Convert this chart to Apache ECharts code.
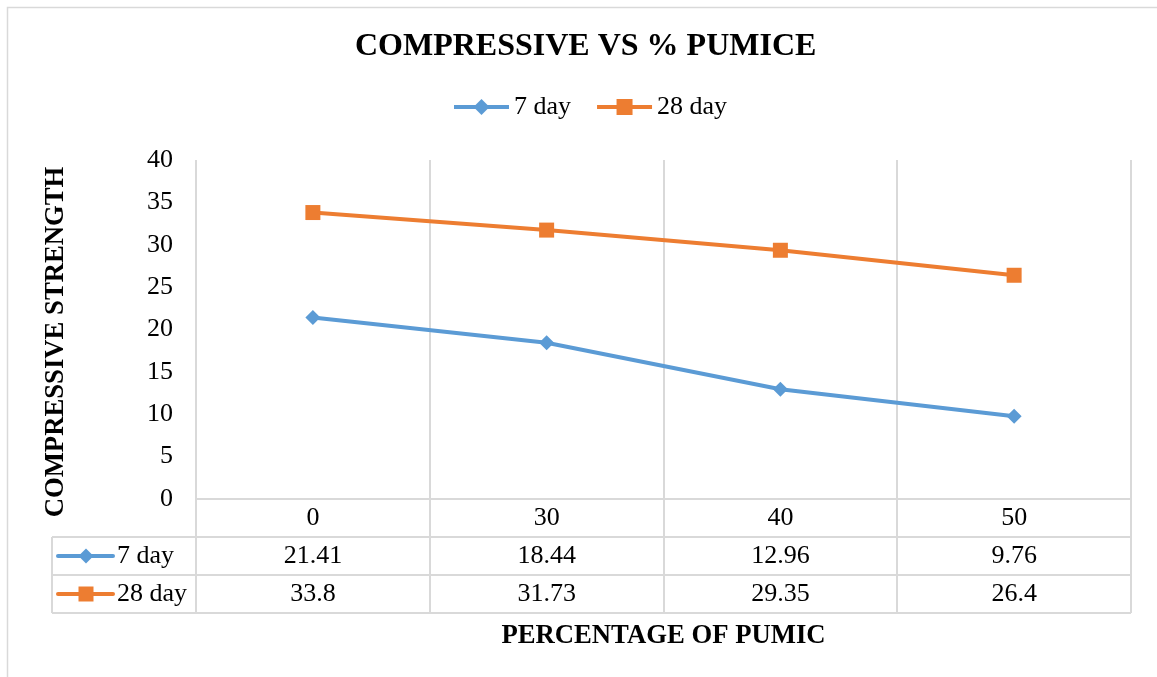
<!DOCTYPE html>
<html>
<head>
<meta charset="utf-8">
<script src="https://cdn.jsdelivr.net/npm/echarts@6/dist/echarts.min.js"></script>
<style>
html, body { margin: 0; padding: 0; background: #fff; }
#chart { width: 1157px; height: 677px; }
</style>
</head>
<body>
<div id="chart"></div>
<script>
// Percentage of pumice (categories) and compressive strength per curing age
const categories = ['0', '30', '40', '50'];
const seriesNames = ['7 day', '28 day'];
const day7 = [21.41, 18.44, 12.96, 9.76];
const day28 = [33.8, 31.73, 29.35, 26.4];
const yMin = 0, yMax = 40, yStep = 5;

const FONT = '"Liberation Serif", "Times New Roman", serif';
const LINE_GRAY = '#d9d9d9';
const COLORS = ['#5B9BD5', '#ED7D31'];
const SYMBOLS = ['diamond', 'rect'];
const seriesData = [day7, day28];

const chart = echarts.init(document.getElementById('chart'));

const option = {
  animation: false,
  backgroundColor: '#fff',
  title: {
    text: 'COMPRESSIVE VS % PUMICE',
    left: 355,
    top: 31,
    padding: 0,
    textStyle: { fontFamily: FONT, fontSize: 32, fontWeight: 'bold', color: '#000' }
  },
  legend: {
    left: 452,
    top: 94,
    padding: 0,
    itemWidth: 55,
    itemHeight: 20,
    itemGap: 24,
    data: seriesNames,
    lineStyle: { width: 4 },
    textStyle: { fontFamily: FONT, fontSize: 26, color: '#000' }
  },
  grid: { left: 196, right: 26, top: 160, bottom: 178, containLabel: false },
  xAxis: {
    type: 'category',
    data: categories,
    boundaryGap: true,
    axisLine: { show: false },
    axisTick: { show: false },
    splitLine: { show: false },
    axisLabel: {
      margin: 19,
      verticalAlign: 'middle',
      fontFamily: FONT, fontSize: 26, color: '#000'
    }
  },
  yAxis: {
    type: 'value',
    min: yMin, max: yMax, interval: yStep,
    axisLine: { show: false },
    axisTick: { show: false },
    splitLine: { show: false },
    axisLabel: { margin: 23, fontFamily: FONT, fontSize: 26, color: '#000' }
  },
  series: seriesNames.map((name, i) => ({
    name: name,
    type: 'line',
    data: seriesData[i],
    symbol: SYMBOLS[i],
    symbolSize: 15,
    itemStyle: { color: COLORS[i] },
    lineStyle: { color: COLORS[i], width: 4 },
    z: 3
  }))
};

chart.setOption(option);

// Data table under the plot, aligned to the category bands of the x axis
function buildTable() {
  const c0 = chart.convertToPixel({ xAxisIndex: 0 }, categories[0]);
  const c1 = chart.convertToPixel({ xAxisIndex: 0 }, categories[1]);
  const band = c1 - c0;
  const edges = [];
  for (let i = 0; i <= categories.length; i++) edges.push(c0 - band / 2 + i * band);
  const yBase = Math.round(chart.convertToPixel({ yAxisIndex: 0 }, yMin));
  const yTop = Math.round(chart.convertToPixel({ yAxisIndex: 0 }, yMax));
  const rowH = 38;
  const tableLeft = 52;
  const right = edges[edges.length - 1];
  const els = [];

  // outer frame of the chart area
  els.push({
    type: 'rect', silent: true,
    shape: { x: 7.5, y: 7.5, width: 1160, height: 680 },
    style: { fill: 'none', stroke: LINE_GRAY, lineWidth: 1.5 }
  });

  // vertical band separators running through plot and table
  edges.forEach(x => {
    els.push({
      type: 'line', silent: true,
      shape: { x1: Math.round(x), y1: yTop, x2: Math.round(x), y2: yBase + 3 * rowH },
      style: { stroke: LINE_GRAY, lineWidth: 2 }
    });
  });
  // horizontal table rules
  els.push({
    type: 'line', silent: true,
    shape: { x1: edges[0], y1: yBase, x2: right, y2: yBase },
    style: { stroke: LINE_GRAY, lineWidth: 2 }
  });
  for (let r = 1; r <= 3; r++) {
    els.push({
      type: 'line', silent: true,
      shape: { x1: tableLeft, y1: yBase + r * rowH, x2: right, y2: yBase + r * rowH },
      style: { stroke: LINE_GRAY, lineWidth: 2 }
    });
  }
  els.push({
    type: 'line', silent: true,
    shape: { x1: tableLeft, y1: yBase + rowH, x2: tableLeft, y2: yBase + 3 * rowH },
    style: { stroke: LINE_GRAY, lineWidth: 2 }
  });

  // series rows: legend key + values
  seriesNames.forEach((name, s) => {
    const yc = yBase + (s + 1.5) * rowH;
    els.push({
      type: 'line', silent: true,
      shape: { x1: 58, y1: yc, x2: 113, y2: yc },
      style: { stroke: COLORS[s], lineWidth: 4, lineCap: 'round' }
    });
    const mx = 86, h = 7.5;
    if (SYMBOLS[s] === 'diamond') {
      els.push({
        type: 'polygon', silent: true,
        shape: { points: [[mx, yc - h], [mx + h, yc], [mx, yc + h], [mx - h, yc]] },
        style: { fill: COLORS[s] }
      });
    } else {
      els.push({
        type: 'rect', silent: true,
        shape: { x: mx - h, y: yc - h, width: 2 * h, height: 2 * h },
        style: { fill: COLORS[s] }
      });
    }
    els.push({
      type: 'text', silent: true,
      style: {
        text: name, x: 117, y: yc, textAlign: 'left', textVerticalAlign: 'middle',
        font: '26px ' + FONT, fill: '#000'
      }
    });
    seriesData[s].forEach((v, i) => {
      els.push({
        type: 'text', silent: true,
        style: {
          text: String(v),
          x: chart.convertToPixel({ xAxisIndex: 0 }, categories[i]),
          y: yc, textAlign: 'center', textVerticalAlign: 'middle',
          font: '26px ' + FONT, fill: '#000'
        }
      });
    });
  });

  // axis titles
  els.push({
    type: 'text', silent: true,
    style: {
      text: 'PERCENTAGE OF PUMIC',
      x: (edges[0] + right) / 2, y: 636,
      textAlign: 'center', textVerticalAlign: 'middle',
      font: 'bold 26.7px ' + FONT, fill: '#000'
    }
  });
  els.push({
    type: 'text', silent: true,
    x: 56, y: 342, rotation: Math.PI / 2,
    style: {
      text: 'COMPRESSIVE STRENGTH',
      x: 0, y: 0,
      textAlign: 'center', textVerticalAlign: 'middle',
      font: 'bold 26.7px ' + FONT, fill: '#000'
    }
  });

  chart.setOption({ graphic: { elements: els } });
}

buildTable();
</script>
</body>
</html>
